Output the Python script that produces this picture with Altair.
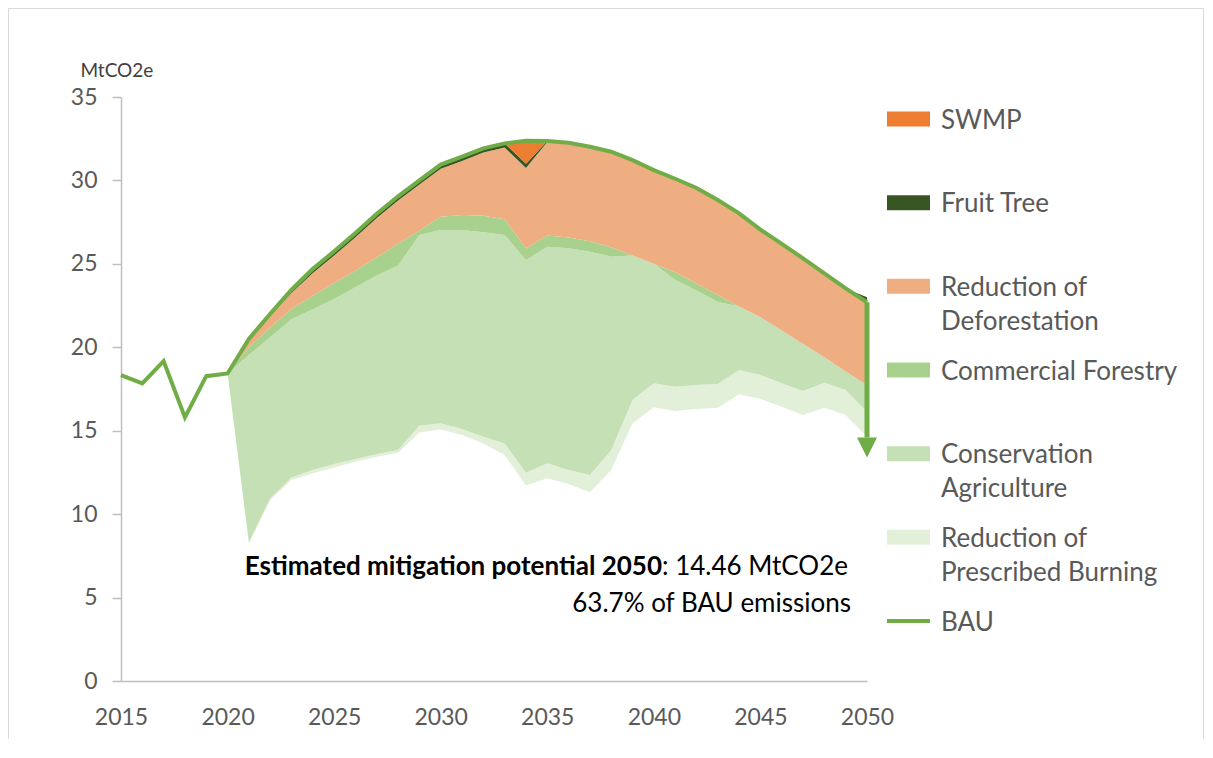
import altair as alt
import pandas as pd

# ---------------- data ----------------
hist_years = [2015, 2016, 2017, 2018, 2019]
hist_bau = [18.33, 17.84, 19.17, 15.80, 18.27]

years = list(range(2020, 2051))
bau = [18.43, 20.5, 22.0, 23.45, 24.7, 25.75, 26.85, 28.0, 29.05, 30.0,
       30.95, 31.42, 31.92, 32.22, 32.38, 32.36, 32.26, 32.02, 31.72, 31.22,
       30.62, 30.1, 29.55, 28.83, 28.03, 27.05, 26.2, 25.33, 24.43, 23.53,
       22.7]

# upper edge of each stacked band (MtCO2e)
swmp_top = [18.43, 20.5, 22.0, 23.45, 24.7, 25.75, 26.85, 28.0, 29.05, 30.0,
            30.95, 31.42, 31.92, 32.22, 32.38, 32.36, 32.26, 32.02, 31.72, 31.22,
            30.62, 30.1, 29.55, 28.83, 28.03, 27.05, 26.2, 25.33, 24.43, 23.53,
            23.0]
fruit_top = [18.43, 20.5, 22.0, 23.45, 24.7, 25.75, 26.85, 28.0, 29.05, 30.0,
             30.95, 31.42, 31.92, 32.22, 31.0, 32.36, 32.26, 32.02, 31.72, 31.22,
             30.62, 30.1, 29.55, 28.83, 28.03, 27.05, 26.2, 25.33, 24.43, 23.53,
             23.0]
deforestation_top = [18.43, 20.5, 21.9, 23.25, 24.45, 25.5, 26.6, 27.75, 28.8, 29.75,
                     30.7, 31.17, 31.67, 31.97, 30.75, 32.31, 32.26, 32.02, 31.72, 31.22,
                     30.62, 30.1, 29.55, 28.83, 28.03, 27.05, 26.2, 25.33, 24.43, 23.53,
                     22.7]
forestry_top = [18.43, 20.0, 21.2, 22.3, 23.1, 23.85, 24.6, 25.4, 26.2, 27.0,
                27.83, 27.93, 27.88, 27.67, 25.93, 26.7, 26.58, 26.35, 26.0, 25.5,
                25.0, 24.5, 23.83, 23.13, 22.45, 21.8, 21.0, 20.2, 19.4, 18.55,
                17.74]
conservation_top = [18.43, 19.54, 20.6, 21.68, 22.28, 22.9, 23.6, 24.3, 24.9, 26.73,
                    27.03, 27.03, 26.9, 26.73, 25.23, 26.03, 25.93, 25.73, 25.43, 25.5,
                    25.0, 24.05, 23.4, 22.72, 22.45, 21.8, 21.0, 20.2, 19.4, 18.55,
                    17.74]
burning_top = [18.43, 8.3, 10.95, 12.2, 12.65, 13.0, 13.3, 13.6, 13.85, 15.3,
               15.44, 15.1, 14.64, 14.24, 12.48, 13.05, 12.65, 12.35, 13.84, 16.84,
               17.84, 17.64, 17.74, 17.8, 18.64, 18.34, 17.84, 17.38, 17.88, 17.44,
               16.14]
remaining_top = [18.43, 8.25, 10.85, 12.05, 12.45, 12.8, 13.14, 13.44, 13.68, 14.9,
                 15.08, 14.74, 14.24, 13.54, 11.71, 12.15, 11.8, 11.31, 12.65, 15.44,
                 16.4, 16.18, 16.3, 16.38, 17.18, 16.9, 16.44, 15.94, 16.38, 15.94,
                 14.64]

series = ["SWMP", "Fruit Tree", "Reduction of Deforestation",
          "Commercial Forestry", "Conservation Agriculture",
          "Reduction of Prescribed Burning"]
legend_labels = ["SWMP", "Fruit Tree", "Reduction of|Deforestation",
                 "Commercial Forestry", "Conservation|Agriculture",
                 "Reduction of|Prescribed Burning"]
colors = ["#ED7D31", "#375623", "#EEAE82", "#A9D18E", "#C5E0B4", "#E2F0D9"]
bau_color = "#70AD47"

mitigation_text = "Estimated mitigation potential 2050"
mitigation_value = ": 14.46 MtCO2e"
mitigation_share = "63.7% of BAU emissions"
arrow_tip = 13.4

x_ticks = [2015, 2020, 2025, 2030, 2035, 2040, 2045, 2050]
y_ticks = [0, 5, 10, 15, 20, 25, 30, 35]

# ---------------- tables ----------------
bands = [
    ("Reduction of Prescribed Burning", remaining_top, burning_top),
    ("Conservation Agriculture", burning_top, conservation_top),
    ("Commercial Forestry", conservation_top, forestry_top),
    ("Reduction of Deforestation", forestry_top, deforestation_top),
    ("Fruit Tree", deforestation_top, fruit_top),
    ("SWMP", fruit_top, swmp_top),
]
rows = []
for name, lo, hi in bands:
    for yr, a, b in zip(years, lo, hi):
        rows.append({"year": yr, "series": name, "lo": a, "hi": b})
area_df = pd.DataFrame(rows)

bau_df = pd.DataFrame({"year": hist_years + years, "value": hist_bau + bau})
legend_df = pd.DataFrame({"series": series, "label": legend_labels,
                          "idx": list(range(len(series)))})
one = pd.DataFrame({"a": [0]})

FONT = "Lato"
FS_TICK = 23
FS_TEXT = 26

x_scale = alt.Scale(domain=[2015, 2050], nice=False, zero=False)
y_scale = alt.Scale(domain=[0, 35], nice=False)
color_scale = alt.Scale(domain=series, range=colors)

x_axis = alt.Axis(values=x_ticks, format="d", title=None, grid=False,
                  ticks=False, labelPadding=25, domainColor="#BFBFBF",
                  domainWidth=1.5, labelFontSize=FS_TICK, labelColor="#595959",
                  labelFont=FONT, labelFlush=False)
y_axis = alt.Axis(values=y_ticks, title="MtCO2e", grid=False, tickSize=9,
                  tickColor="#BFBFBF", tickWidth=1.5, domainColor="#BFBFBF",
                  domainWidth=1.5, labelPadding=15, labelFontSize=FS_TICK,
                  labelColor="#595959", labelFont=FONT, titleAngle=0,
                  titleAlign="left", titleBaseline="middle", titleX=-41,
                  titleY=-27, titleFontSize=19, titleFontWeight="normal",
                  titleColor="#404040", titleFont=FONT)

areas = alt.Chart(area_df).mark_area(interpolate="linear").encode(
    x=alt.X("year:Q", scale=x_scale, axis=x_axis),
    y=alt.Y("lo:Q", scale=y_scale, axis=y_axis, stack=None),
    y2=alt.Y2("hi:Q"),
    color=alt.Color("series:N", scale=color_scale, legend=None),
    detail="series:N",
)

bau_line = alt.Chart(bau_df).mark_line(color=bau_color, strokeWidth=4,
                                       strokeJoin="miter").encode(
    x=alt.X("year:Q", scale=x_scale),
    y=alt.Y("value:Q", scale=y_scale),
)

arrow_shaft = alt.Chart(one).mark_rule(color=bau_color, strokeWidth=5).encode(
    x=alt.datum(2050), y=alt.datum(bau[-1]), y2=alt.datum(arrow_tip + 1.2),
)
arrow_head = alt.Chart(one).mark_point(
    shape="M-1,-1L1,-1L0,1Z", size=400, filled=True, color=bau_color,
    opacity=1, strokeWidth=0,
).encode(x=alt.datum(2050), y=alt.datum(arrow_tip + 0.6))

txt_bold = alt.Chart(one).mark_text(
    align="right", baseline="alphabetic", font=FONT, fontSize=FS_TEXT,
    fontWeight="bold", color="#000000",
).encode(x=alt.value(541), y=alt.value(478), text=alt.value(mitigation_text))
txt_val = alt.Chart(one).mark_text(
    align="left", baseline="alphabetic", font=FONT, fontSize=FS_TEXT,
    color="#000000",
).encode(x=alt.value(541), y=alt.value(478), text=alt.value(mitigation_value))
txt_share = alt.Chart(one).mark_text(
    align="right", baseline="alphabetic", font=FONT, fontSize=FS_TEXT,
    color="#000000",
).encode(x=alt.value(730), y=alt.value(515), text=alt.value(mitigation_share))

leg_base = alt.Chart(legend_df).transform_calculate(
    sy="22 + datum.idx * 83.67 - 7.5",
    sy2="22 + datum.idx * 83.67 + 7.5",
    ty="22 + datum.idx * 83.67 + 9.5",
)
leg_swatch = leg_base.mark_rect().encode(
    x=alt.value(766), x2=alt.value(809),
    y=alt.Y("sy:Q", scale=None), y2=alt.Y2("sy2:Q"),
    color=alt.Color("series:N", scale=color_scale, legend=None),
)
leg_text = leg_base.mark_text(
    align="left", baseline="alphabetic", font=FONT, fontSize=FS_TEXT,
    color="#595959", lineBreak="|", lineHeight=34,
).encode(x=alt.value(820), y=alt.Y("ty:Q", scale=None), text="label:N")

leg_bau_line = alt.Chart(one).mark_rule(color=bau_color, strokeWidth=4).encode(
    x=alt.value(766), x2=alt.value(809), y=alt.value(524),
)
leg_bau_text = alt.Chart(one).mark_text(
    align="left", baseline="alphabetic", font=FONT, fontSize=FS_TEXT,
    color="#595959",
).encode(x=alt.value(820), y=alt.value(533.5), text=alt.value("BAU"))

frame = alt.Chart(one).mark_rect(filled=False, stroke="#D9D9D9",
                                 strokeWidth=1).encode(
    x=alt.value(-112.5), x2=alt.value(1082.5),
    y=alt.value(-88.5), y2=alt.value(645.5),
)

chart = alt.layer(
    areas, bau_line, arrow_shaft, arrow_head, txt_bold, txt_val, txt_share,
    leg_swatch, leg_text, leg_bau_line, leg_bau_text, frame,
).properties(
    width=746, height=584,
    autosize=alt.AutoSizeParams(type="none"),
    padding={"left": 113, "top": 89, "right": 338, "bottom": 58},
).configure_view(stroke=None)

chart.save("out.html", embed_options={"renderer": "svg", "actions": False})
